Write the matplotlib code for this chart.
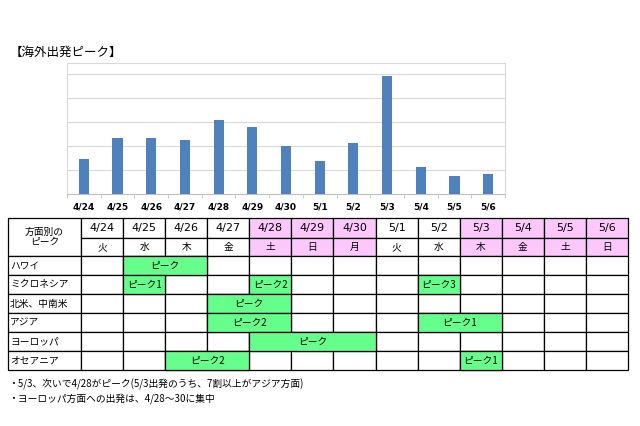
import matplotlib
matplotlib.use("Agg")
import matplotlib.pyplot as plt
from matplotlib.patches import Rectangle

plt.rcParams['font.family'] = ['Noto Sans CJK JP', 'DejaVu Sans']

dates = ['4/24', '4/25', '4/26', '4/27', '4/28', '4/29', '4/30',
         '5/1', '5/2', '5/3', '5/4', '5/5', '5/6']
weekdays = ['火', '水', '木', '金', '土', '日', '月', '火', '水', '木', '金', '土', '日']
departures = [1.46, 2.32, 2.35, 2.25, 3.06, 2.78, 2.01, 1.36, 2.11, 4.89, 1.14, 0.76, 0.83]
holidays = [4, 5, 6, 9, 10, 11, 12]

regions = ['ハワイ', 'ミクロネシア', '北米、中南米', 'アジア', 'ヨーロッパ', 'オセアニア']
# (region index, first day, last day, label)
peaks = [
    (0, 1, 2, 'ピーク'),
    (1, 1, 1, 'ピーク1'), (1, 4, 4, 'ピーク2'), (1, 8, 8, 'ピーク3'),
    (2, 3, 4, 'ピーク'),
    (3, 3, 4, 'ピーク2'), (3, 8, 9, 'ピーク1'),
    (4, 4, 6, 'ピーク'),
    (5, 2, 3, 'ピーク2'), (5, 9, 9, 'ピーク1'),
]
notes = ['・5/3、次いで4/28がピーク(5/3出発のうち、7割以上がアジア方面)',
         '・ヨーロッパ方面への出発は、4/28～30に集中']

W, H = 640, 426
fig = plt.figure(figsize=(6.4, 4.26), dpi=100)

# bar chart
ax = fig.add_axes([67 / W, (H - 194) / H, (505 - 67) / W, (194 - 63) / H])
ax.bar(range(len(dates)), departures, width=0.3, color='#4f81bd', zorder=3)
ax.set_xlim(-0.5, len(dates) - 0.5)
ax.set_ylim(0, 5.45)
ax.set_yticks([1, 2, 3, 4, 5])
ax.set_yticklabels([])
ax.tick_params(axis='y', length=0)
ax.grid(axis='y', color='#d9d9d9', linewidth=0.8, zorder=0)
ax.set_xticks(range(len(dates)))
ax.set_xticklabels(dates, fontsize=6.5, fontweight='bold', family='DejaVu Sans')
ax.tick_params(axis='x', length=0, pad=6)
ax.set_xticks([i + 0.5 for i in range(-1, len(dates))], minor=True)
ax.tick_params(axis='x', which='minor', length=3, color='#bfbfbf')
for s in ax.spines.values():
    s.set_color('#d9d9d9')
ax.spines['bottom'].set_color('#bfbfbf')

fig.text(10 / W, 1 - 52 / H, '【海外出発ピーク】', fontsize=9, va='center', ha='left')

# table
tx = fig.add_axes([0, 0, 1, 1])
tx.set_xlim(0, W)
tx.set_ylim(H, 0)
tx.axis('off')

x0, x1, xe = 8, 81, 628
cw = (xe - x1) / len(dates)
y_top, y_mid, y_hdr = 218, 238, 256
rh = (370 - y_hdr) / len(regions)
lw = 0.9

def cell(x, y, w, h, fc='white'):
    tx.add_patch(Rectangle((x, y), w, h, facecolor=fc, edgecolor='black', linewidth=lw))

cell(x0, y_top, x1 - x0, y_hdr - y_top)
tx.text((x0 + x1) / 2, (y_top + y_hdr) / 2, '方面別の\nピーク', fontsize=7,
        ha='center', va='center', linespacing=1.1)
for i, (d, wd) in enumerate(zip(dates, weekdays)):
    fc = '#fcc8fc' if i in holidays else 'white'
    cx = x1 + i * cw
    cell(cx, y_top, cw, y_mid - y_top, fc)
    cell(cx, y_mid, cw, y_hdr - y_mid, fc)
    tx.text(cx + cw / 2, (y_top + y_mid) / 2, d, fontsize=8, ha='center', va='center',
            family='DejaVu Sans')
    tx.text(cx + cw / 2, (y_mid + y_hdr) / 2, wd, fontsize=7, ha='center', va='center')

for r, name in enumerate(regions):
    ry = y_hdr + r * rh
    cell(x0, ry, x1 - x0, rh)
    tx.text(x0 + 2, ry + rh / 2, name, fontsize=7, ha='left', va='center')
    for i in range(len(dates)):
        cell(x1 + i * cw, ry, cw, rh)

for r, a, b, lab in peaks:
    ry = y_hdr + r * rh
    cx = x1 + a * cw
    w = (b - a + 1) * cw
    cell(cx, ry, w, rh, '#66ff8c')
    tx.text(cx + w / 2, ry + rh / 2, lab, fontsize=7, ha='center', va='center')

for k, note in enumerate(notes):
    fig.text(8 / W, 1 - (384 + k * 15) / H, note, fontsize=7, ha='left', va='center')

fig.savefig('out.png', dpi=100)
